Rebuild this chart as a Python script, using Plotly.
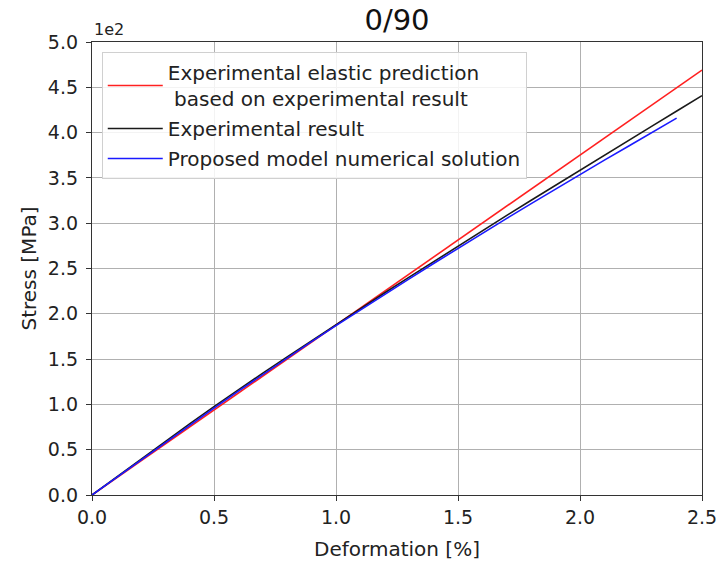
import plotly.graph_objects as go

# Data (stress in MPa, deformation in %)
deformation = [0.0, 0.1, 0.2, 0.3, 0.4, 0.5, 0.6, 0.7, 0.8, 0.9, 1.0, 1.1, 1.2, 1.3,
               1.4, 1.5, 1.6, 1.7, 1.8, 1.9, 2.0, 2.1, 2.2, 2.3, 2.4, 2.5]
elastic_x = [0.0, 2.5]
elastic_stress = [0.0, 469.0]
experimental_stress = [0.0, 19.8, 39.5, 59.1, 78.5, 97.5, 116.2, 134.5, 152.5, 170.3,
                       188.5, 206.0, 223.2, 240.4, 257.6, 274.8, 291.8, 308.6, 325.3,
                       342.0, 358.6, 375.2, 391.6, 408.0, 424.4, 440.8]
model_x = [0.0, 0.1, 0.2, 0.3, 0.4, 0.5, 0.6, 0.7, 0.8, 0.9, 1.0, 1.1, 1.2, 1.3,
           1.4, 1.5, 1.6, 1.7, 1.8, 1.9, 2.0, 2.1, 2.2, 2.3, 2.396]
model_stress = [0.0, 19.3, 38.7, 57.8, 76.9, 95.9, 114.6, 133.1, 151.3, 169.2, 187.0,
                204.4, 221.6, 238.6, 255.5, 272.3, 288.8, 305.3, 321.6, 337.8, 353.6,
                369.6, 385.2, 400.6, 416.0]

x_ticks = [0.0, 0.5, 1.0, 1.5, 2.0, 2.5]
y_ticks = [0.0, 0.5, 1.0, 1.5, 2.0, 2.5, 3.0, 3.5, 4.0, 4.5, 5.0]
scale = 100.0

FONT = "DejaVu Sans"
TXT = "#222222"

fig = go.Figure()
fig.add_trace(go.Scatter(x=elastic_x, y=[v / scale for v in elastic_stress], mode="lines",
                         line=dict(color="#ff2020", width=1.6), legendgroup="a",
                         name="Experimental elastic prediction<br>\u00a0based on experimental result"))
fig.add_trace(go.Scatter(x=deformation, y=[v / scale for v in experimental_stress], mode="lines",
                         line=dict(color="#1a1a1a", width=1.6), legendgroup="b",
                         name="Experimental result"))
fig.add_trace(go.Scatter(x=model_x, y=[v / scale for v in model_stress], mode="lines",
                         line=dict(color="#1a1aff", width=1.6), legendgroup="c",
                         name="Proposed model numerical solution"))

axis_common = dict(showgrid=True, gridcolor="#b0b0b0", gridwidth=1, zeroline=False,
                   showline=True, linecolor="#333333", linewidth=1.3, mirror=True,
                   ticks="outside", ticklen=5, tickcolor="#333333", automargin=False,
                   ticklabeloverflow="allow",
                   tickfont=dict(family=FONT, size=19, color=TXT))

fig.update_layout(
    width=716, height=561,
    margin=dict(l=92, r=14, t=42, b=66),
    paper_bgcolor="white", plot_bgcolor="white",
    title=dict(text="0/90", x=(92 + 305) / 716, xanchor="center", y=1 - 20 / 561, yanchor="middle",
               font=dict(family=FONT, size=29, color="#111111")),
    xaxis=dict(range=[0, 2.5], tickvals=x_ticks, tickformat=".1f",
               title=dict(text="Deformation [%]", font=dict(family=FONT, size=20, color=TXT)),
               **axis_common),
    yaxis=dict(range=[0, 5.0], tickvals=y_ticks, tickformat=".1f", ticklabelstandoff=4,
               **axis_common),
    legend=dict(x=0.016, y=0.978, xanchor="left", yanchor="top",
                bgcolor="rgba(255,255,255,0.85)", bordercolor="#d0d0d0", borderwidth=1,
                font=dict(family=FONT, size=20, color=TXT),
                tracegroupgap=1, itemwidth=55),
    annotations=[
        dict(text="1e2", xref="paper", yref="paper", x=0.0, y=1.0,
             xanchor="left", yanchor="bottom", showarrow=False, yshift=1,
             font=dict(family=FONT, size=16, color=TXT)),
        dict(text="Stress [MPa]", xref="paper", yref="paper", x=(28 - 92) / 610, y=0.5,
             xanchor="center", yanchor="middle", textangle=-90, showarrow=False,
             font=dict(family=FONT, size=20, color=TXT)),
    ],
)

fig.write_html("out.html")
